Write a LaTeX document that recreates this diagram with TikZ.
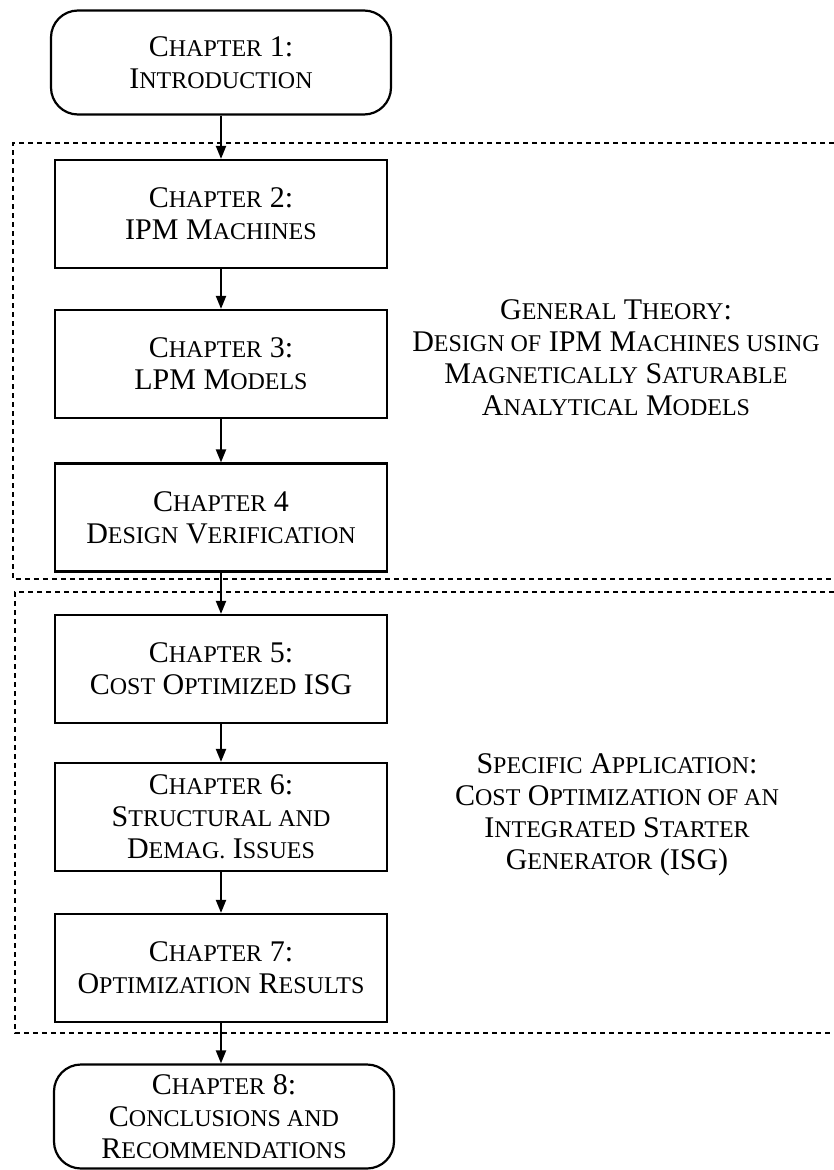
\documentclass[tikz,border=0pt]{standalone}
\usepackage{fontspec}
\setmainfont{Liberation Serif}
\usetikzlibrary{arrows.meta}
\newcommand\bigsz{\fontsize{30}{32}\selectfont}
\newcommand\sw[2]{#1{\fontsize{24}{32}\selectfont #2}}
\tikzset{
  chbox/.style={draw, line width=2.2pt, minimum width=332pt, minimum height=108pt, align=center, inner sep=0pt, font=\bigsz},
  endbox/.style={chbox, rounded corners=27pt, minimum width=340pt, minimum height=104pt},
  flow/.style={line width=2pt, -{Triangle[length=13pt,width=10pt]}},
  grp/.style={line width=2pt, dash pattern=on 5pt off 4pt},
  side/.style={align=center, font=\bigsz, inner sep=0pt}
}
\begin{document}
\begin{tikzpicture}[x=1pt,y=-1pt]
\useasboundingbox (0,0) rectangle (834,1170);
% group frames (open on the right)
\draw[grp] (834,143) -- (13,143) -- (13,579) -- (834,579);
\draw[grp] (834,592) -- (15,592) -- (15,1033) -- (834,1033);
% chapter boxes
\node[endbox] (c1) at (221,62.5) {\sw{C}{HAPTER} 1:\\\sw{I}{NTRODUCTION}};
\node[chbox] (c2) at (221,214) {\sw{C}{HAPTER} 2:\\IPM \sw{M}{ACHINES}};
\node[chbox] (c3) at (221,364) {\sw{C}{HAPTER} 3:\\LPM \sw{M}{ODELS}};
\node[chbox] (c4) at (221,517.5) {\sw{C}{HAPTER} 4\\\sw{D}{ESIGN} \sw{V}{ERIFICATION}};
\node[chbox] (c5) at (221,669) {\sw{C}{HAPTER} 5:\\\sw{C}{OST} \sw{O}{PTIMIZED} ISG};
\node[chbox] (c6) at (221,817) {\sw{C}{HAPTER} 6:\\\sw{S}{TRUCTURAL AND}\\\sw{D}{EMAG.} \sw{I}{SSUES}};
\node[chbox] (c7) at (221,968) {\sw{C}{HAPTER} 7:\\\sw{O}{PTIMIZATION} \sw{R}{ESULTS}};
\node[endbox] (c8) at (224,1116.5) {\sw{C}{HAPTER} 8:\\\sw{C}{ONCLUSIONS AND}\\\sw{R}{ECOMMENDATIONS}};
% connectors
\draw[flow] (c1) -- (c2);
\draw[flow] (c2) -- (c3);
\draw[flow] (c3) -- (c4);
\draw[flow] (c4) -- (c5);
\draw[flow] (c5) -- (c6);
\draw[flow] (c6) -- (c7);
\draw[flow] (c7.south) -- (c7.south |- c8.north);
% side labels
\node[side] (g1) at (616,358) {\sw{G}{ENERAL} \sw{T}{HEORY}:\\\sw{D}{ESIGN OF} IPM \sw{M}{ACHINES USING}\\\sw{M}{AGNETICALLY} \sw{S}{ATURABLE}\\\sw{A}{NALYTICAL} \sw{M}{ODELS}};
\node[side] (g2) at (617,815) {\sw{S}{PECIFIC} \sw{A}{PPLICATION}:\\\sw{C}{OST} \sw{O}{PTIMIZATION OF AN}\\\sw{I}{NTEGRATED} \sw{S}{TARTER}\\\sw{G}{ENERATOR} (ISG)};
\end{tikzpicture}
\end{document}
